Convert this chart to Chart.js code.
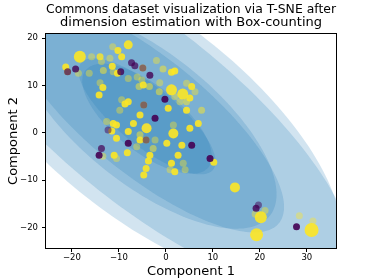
<!DOCTYPE html>
<html><head><meta charset="utf-8">
<script src="https://cdn.jsdelivr.net/npm/chart.js@4/dist/chart.umd.min.js"></script>
<style>html,body{margin:0;padding:0;background:#fff}</style>
</head><body>
<canvas id="c" width="374" height="280"></canvas>
<script>
const titleLines = ['Commons dataset visualization via T-SNE after', 'dimension estimation with Box-counting'];
const xLabel = 'Component 1';
const yLabel = 'Component 2';
const xTicks = [-20, -10, 0, 10, 20, 30];
const yTicks = [-20, -10, 0, 10, 20];

// yellow points (label 1)
const yellowX = [-18.3,-8.0,-11.3,-10.2,-9.4,-15.8,-14.0,-13.7,-11.9,-21.3,-20.9,-18.6,-16.3,-13.3,-11.4,-11.2,-10.3,-4.9,-2.0,-0.6,1.2,1.9,-8.0,-6.1,-5.1,-14.0,-13.4,-14.2,-5.7,-4.8,-3.5,-1.3,-1.4,1.2,3.6,1.9,4.4,5.5,6.2,5.1,0.5,3.0,4.4,4.4,7.6,-9.4,-8.0,-8.7,-9.8,-4.7,-5.5,-12.6,-10.5,-11.2,-6.9,-4.1,-11.5,-8.0,-5.5,1.6,5.1,1.6,6.9,-10.5,-4.2,-2.3,-5.5,0.2,3.4,-13.4,-11.0,-10.5,-8.2,-6.2,-3.4,-3.7,-4.2,-4.7,-2.7,1.2,2.6,3.7,1.9,0.9,4.1,10.2,14.7,20.2,21.1,19.0,19.3,28.4,31.3,31.0];
const yellowY = [16.1,18.6,18.2,17.4,16.1,16.1,16.1,15.1,15.8,13.9,12.9,12.6,12.6,13.2,14.1,12.9,12.6,13.7,15.3,13.5,12.8,13.1,11.5,11.8,11.2,10.6,9.6,8.0,9.8,10.1,9.8,10.6,8.7,9.1,8.2,7.7,10.5,9.8,8.7,7.4,5.2,6.6,6.6,4.8,4.8,7.0,6.6,6.1,4.8,5.9,3.8,2.4,1.7,2.0,2.0,1.0,0.4,0.3,-0.4,1.7,1.0,-0.1,2.0,-1.1,-1.5,-1.5,-1.5,-2.2,-2.6,-4.9,-4.7,-5.4,-4.2,-2.9,-4.7,-5.9,-7.5,-8.9,-3.3,-6.4,-4.7,-6.4,-8.2,-7.8,-7.8,-6.2,-11.5,-17.8,-16.4,-17.1,-21.5,-17.5,-18.6,-20.5];
const yellowSize = [144,81,49,49,49,49,49,49,49,49,49,49,49,49,49,49,49,49,49,49,49,49,49,49,49,49,49,49,49,49,49,49,49,121,121,49,49,49,49,49,49,49,49,49,49,49,49,49,49,49,49,49,49,49,49,100,49,49,49,49,49,100,49,49,49,49,49,49,49,49,49,49,49,49,49,49,49,49,49,49,49,49,49,49,49,49,100,144,49,49,169,49,49,196];
const yellowAlpha = [0.9,0.9,0.4,0.9,0.9,0.4,0.8,0.4,0.4,0.9,0.6,0.4,0.4,0.5,0.9,0.4,0.9,0.6,0.4,0.5,0.9,0.9,0.4,0.4,0.4,0.4,0.9,0.9,0.5,0.9,0.5,0.4,0.5,0.9,0.9,0.4,0.4,0.9,0.4,0.9,0.9,0.4,0.5,0.9,0.5,0.4,0.9,0.9,0.4,0.6,0.9,0.4,0.9,0.9,0.9,0.9,0.9,0.9,0.5,0.4,0.9,0.9,0.9,0.9,0.6,0.4,0.9,0.9,0.9,0.4,0.9,0.4,0.9,0.4,0.9,0.9,0.9,0.9,0.5,0.9,0.9,0.4,0.9,0.4,0.4,0.9,0.9,0.9,0.4,0.4,0.9,0.4,0.4,0.9];

// purple points (label 0)
const purpleX = [-20.9,-19.2,-9.6,-7.3,-6.6,-4.9,-3.4,-0.2,-4.7,-2.3,-12.3,-8.0,-4.2,5.5,-13.7,-14.2,9.4,19.7,19.2,27.8];
const purpleY = [12.9,13.5,12.9,14.8,14.2,13.7,12.2,7.1,5.9,3.1,0.6,-2.2,-1.5,-2.6,-3.3,-4.7,-5.4,-15.2,-15.9,-19.8];
const purpleSize = [49,49,49,49,49,49,49,49,49,49,49,49,49,49,49,49,49,49,49,49];
const purpleAlpha = [0.7,0.8,0.8,0.7,0.7,0.5,0.8,0.9,0.5,0.9,0.5,0.9,0.5,0.9,0.7,0.9,0.9,0.5,0.8,0.9];

// Gaussian mixture components (mean, 1-sigma semi-axes, angle in degrees, weight)
const compMeanX = [-4, -4];
const compMeanY = [3, 3.5];
const compSigmaMajor = [16.6, 18.0];
const compSigmaMinor = [7.0, 6.2];
const compAngle = [-38, -38.7];
const compWeight = [1, 1];

const FONT = 'DejaVu Sans';
Chart.defaults.font.family = FONT;
Chart.defaults.color = '#000';

const rgba = (hex, a) => {
  const n = parseInt(hex.slice(1), 16);
  return `rgba(${(n >> 16) & 255},${(n >> 8) & 255},${n & 255},${a})`;
};
const YELLOW = '#fde725', PURPLE = '#440154', ELLIPSE = '#1f77b4';
const fmt = v => (v < 0 ? '\u2212' + Math.abs(v) : String(v));

const ellipsePlugin = {
  id: 'gmmEllipses',
  beforeDatasetsDraw(chart) {
    const { ctx, chartArea: a, scales: { x, y } } = chart;
    ctx.save();
    ctx.beginPath();
    ctx.rect(a.left, a.top, a.right - a.left, a.bottom - a.top);
    ctx.clip();
    const wmax = Math.max(...compWeight);
    for (let i = 0; i < compMeanX.length; i++) {
      const alpha = 0.2 * compWeight[i] / wmax;
      const th = compAngle[i] * Math.PI / 180;
      for (let k = 1; k <= 3; k++) {
        ctx.beginPath();
        for (let j = 0; j <= 180; j++) {
          const t = j / 180 * 2 * Math.PI;
          const u = k * compSigmaMajor[i] * Math.cos(t);
          const v = k * compSigmaMinor[i] * Math.sin(t);
          const dx = compMeanX[i] + u * Math.cos(th) - v * Math.sin(th);
          const dy = compMeanY[i] + u * Math.sin(th) + v * Math.cos(th);
          const px = x.getPixelForValue(dx), py = y.getPixelForValue(dy);
          if (j === 0) ctx.moveTo(px, py); else ctx.lineTo(px, py);
        }
        ctx.closePath();
        ctx.fillStyle = rgba(ELLIPSE, alpha);
        ctx.fill();
      }
    }
    ctx.restore();
  },
  afterDraw(chart) {
    const { ctx, chartArea: a } = chart;
    ctx.save();
    ctx.strokeStyle = '#000';
    ctx.lineWidth = 1;
    ctx.strokeRect(Math.round(a.left) - 0.5, Math.round(a.top) - 0.5, Math.round(a.right - a.left) + 1, Math.round(a.bottom - a.top) + 1);
    ctx.restore();
  }
};

const pts = (xs, ys) => xs.map((v, i) => ({ x: v, y: ys[i] }));

new Chart(document.getElementById('c'), {
  type: 'scatter',
  data: {
    datasets: [
      {
        label: 'label 0',
        data: pts(purpleX, purpleY),
        pointRadius: purpleSize.map(s => Math.sqrt(s) / 2),
        pointBackgroundColor: purpleAlpha.map(a => rgba(PURPLE, a)),
        pointBorderWidth: 0,
        pointHoverRadius: 0
      },
      {
        label: 'label 1',
        data: pts(yellowX, yellowY),
        pointRadius: yellowSize.map(s => Math.sqrt(s) / 2),
        pointBackgroundColor: yellowAlpha.map(a => rgba(YELLOW, a)),
        pointBorderWidth: 0,
        pointHoverRadius: 0
      }
    ]
  },
  options: {
    responsive: false,
    animation: false,
    devicePixelRatio: 1,
    events: [],
    layout: { padding: { left: 0, right: 38, top: 0, bottom: 0 } },
    plugins: {
      legend: { display: false },
      tooltip: { enabled: false },
      title: {
        display: true,
        text: titleLines,
        fullSize: false,
        color: '#000',
        font: { family: FONT, size: 13, weight: 'normal', lineHeight: 1.03 },
        padding: { top: 3, bottom: 4.2 }
      }
    },
    scales: {
      x: {
        type: 'linear',
        min: -25.5, max: 36.2,
        afterFit: s => { s.height = 32; },
        afterBuildTicks: s => { s.ticks = xTicks.map(v => ({ value: v })); },
        grid: { display: true, drawOnChartArea: false, drawTicks: true, tickLength: 4, color: '#000', lineWidth: 1 },
        border: { display: false },
        ticks: { font: { family: FONT, size: 8.5 }, color: '#000', padding: 1, maxRotation: 0, autoSkip: false, callback: fmt },
        title: { display: true, text: xLabel, color: '#000', font: { family: FONT, size: 13 }, padding: { top: 0, bottom: 0.5 } }
      },
      y: {
        type: 'linear',
        min: -24.3, max: 20.9,
        afterFit: s => { s.width = 46; },
        afterBuildTicks: s => { s.ticks = yTicks.map(v => ({ value: v })); },
        grid: { display: true, drawOnChartArea: false, drawTicks: true, tickLength: 4, color: '#000', lineWidth: 1 },
        border: { display: false },
        ticks: { font: { family: FONT, size: 8.5 }, color: '#000', padding: 4, autoSkip: false, callback: fmt },
        title: { display: true, text: yLabel, color: '#000', font: { family: FONT, size: 13 }, padding: { top: 5.5, bottom: 0 } }
      }
    }
  },
  plugins: [ellipsePlugin]
});
</script>
</body></html>
